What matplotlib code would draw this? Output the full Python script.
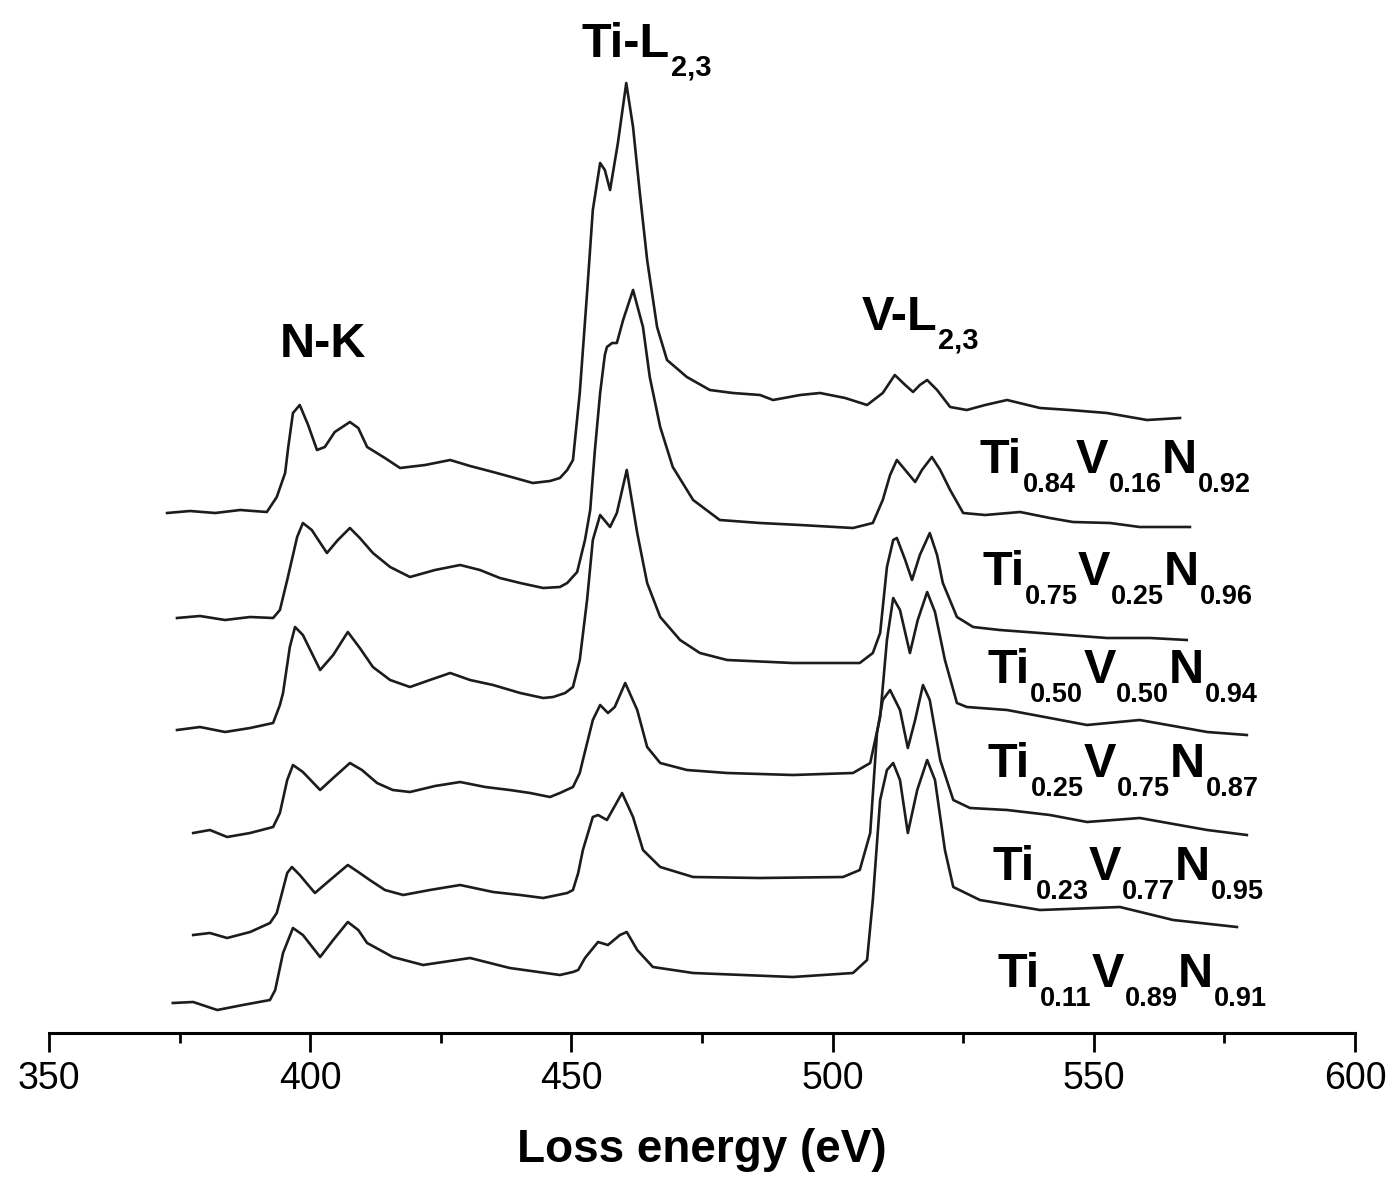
import matplotlib.pyplot as plt
from matplotlib.ticker import MultipleLocator

plt.rcParams['font.family'] = ['Liberation Sans', 'DejaVu Sans']

# EELS spectra, energy in eV, intensity in arb. units (stacked as in the figure)
e1 = [372.6, 377.0, 381.8, 386.6, 391.7, 393.6, 395.2, 395.8, 396.7, 398.0, 399.6, 401.3, 402.8, 404.7,
      407.6, 409.2, 410.9, 414.3, 417.2, 422.0, 426.8, 430.6, 435.0, 439.2, 442.6, 445.9, 447.8, 449.2,
      450.3, 451.6, 453.0, 454.1, 455.5, 456.4, 457.4, 458.9, 460.5, 461.8, 463.1, 464.5, 466.4, 468.3,
      472.1, 476.5, 480.9, 486.1, 488.6, 493.8, 497.6, 502.4, 506.6, 509.6, 511.9, 513.9, 515.4, 516.7,
      518.1, 520.0, 522.5, 525.7, 529.2, 533.4, 539.7, 545.4, 552.5, 560.2, 566.5]
i1 = [52.0, 52.2, 52.0, 52.3, 52.1, 53.6, 56.0, 58.6, 62.0, 62.8, 60.8, 58.3, 58.6, 60.1,
      61.1, 60.5, 58.6, 57.5, 56.5, 56.8, 57.3, 56.7, 56.1, 55.5, 55.0, 55.2, 55.5, 56.3,
      57.3, 64.0, 74.0, 82.3, 87.0, 86.3, 84.3, 89.0, 95.0, 90.6, 84.0, 77.3, 70.6, 67.3,
      65.6, 64.3, 64.0, 63.8, 63.3, 63.8, 64.0, 63.5, 62.8, 64.0, 65.8, 64.8, 64.1, 64.8,
      65.3, 64.3, 62.6, 62.3, 62.8, 63.3, 62.5, 62.3, 62.0, 61.3, 61.5]

e2 = [374.5, 378.9, 383.7, 388.5, 392.9, 394.2, 395.6, 397.5, 398.6, 400.3, 403.2, 405.3, 407.6, 409.5,
      412.0, 415.3, 419.1, 423.9, 428.7, 432.5, 436.3, 440.2, 444.6, 447.8, 449.2, 451.1, 452.6, 453.6,
      454.5, 455.5, 456.4, 456.8, 457.8, 458.7, 459.9, 461.8, 463.7, 465.0, 467.0, 469.4, 473.3, 478.4,
      486.1, 493.8, 503.9, 507.7, 509.6, 511.0, 512.3, 513.9, 515.8, 517.1, 519.0, 520.6, 522.5, 525.0,
      529.2, 535.9, 541.6, 546.0, 553.1, 558.8, 568.4]
i2 = [41.5, 41.7, 41.3, 41.6, 41.5, 42.3, 45.3, 49.6, 51.0, 50.3, 48.0, 49.3, 50.5, 49.5,
      48.0, 46.6, 45.6, 46.3, 46.8, 46.3, 45.5, 45.0, 44.5, 44.6, 45.0, 46.1, 49.3, 52.3,
      58.3, 64.0, 67.8, 68.6, 69.0, 69.0, 71.3, 74.3, 70.6, 65.6, 60.6, 56.6, 53.3, 51.3,
      51.0, 50.8, 50.5, 51.0, 53.3, 55.8, 57.3, 56.3, 55.1, 56.3, 57.6, 56.3, 54.3, 52.0,
      51.8, 52.1, 51.5, 51.1, 51.0, 50.6, 50.6]

e3 = [374.5, 378.9, 383.7, 388.5, 392.9, 394.2, 394.8, 396.1, 397.1, 398.6, 401.9, 404.4, 407.2, 409.5,
      412.0, 415.3, 419.1, 422.9, 426.8, 430.6, 435.0, 440.2, 444.6, 446.5, 448.8, 450.3, 451.6, 453.0,
      454.1, 455.5, 457.4, 458.7, 460.6, 462.6, 464.5, 467.0, 470.8, 474.6, 479.8, 492.4, 505.2, 507.7,
      509.1, 510.4, 511.6, 512.3, 513.9, 515.2, 516.7, 518.6, 520.0, 521.1, 523.8, 526.9, 532.0, 539.7,
      552.5, 560.8, 567.8]
i3 = [30.3, 30.6, 30.1, 30.5, 31.0, 32.8, 34.0, 38.6, 40.6, 39.8, 36.3, 37.8, 40.1, 38.5,
      36.6, 35.3, 34.6, 35.3, 36.0, 35.3, 34.8, 34.0, 33.5, 33.6, 34.0, 34.6, 37.3, 43.3,
      49.3, 51.8, 50.6, 52.0, 56.3, 50.0, 45.0, 41.6, 39.3, 38.0, 37.3, 37.0, 37.0, 38.0,
      40.0, 46.6, 49.3, 49.5, 47.3, 45.3, 47.8, 50.0, 47.8, 45.0, 41.6, 40.6, 40.3, 40.0,
      39.5, 39.5, 39.3]

e4 = [377.6, 380.8, 384.1, 388.5, 392.9, 394.2, 395.6, 396.7, 398.6, 401.9, 404.4, 407.6, 409.9, 412.8,
      415.8, 419.1, 423.9, 428.7, 433.5, 438.2, 442.1, 445.9, 447.8, 450.3, 451.6, 452.2, 454.1, 455.5,
      457.0, 458.3, 460.3, 462.6, 464.5, 467.0, 472.1, 479.8, 492.4, 503.9, 507.2, 509.1, 510.4, 511.6,
      512.9, 514.8, 516.3, 518.1, 519.6, 521.5, 523.8, 525.7, 533.4, 541.6, 548.7, 558.8, 571.7, 579.3]
i4 = [20.0, 20.3, 19.6, 20.0, 20.6, 22.0, 25.3, 26.8, 26.1, 24.3, 25.5, 27.0, 26.3, 25.0,
      24.3, 24.1, 24.7, 25.1, 24.6, 24.3, 24.0, 23.6, 24.0, 24.6, 26.0, 27.3, 31.3, 32.8,
      32.0, 32.6, 35.0, 32.3, 28.6, 27.0, 26.3, 26.0, 25.8, 26.0, 27.0, 31.6, 39.3, 43.5,
      42.3, 38.0, 41.3, 44.1, 42.1, 37.3, 33.0, 32.6, 32.3, 31.5, 30.8, 31.3, 30.1, 29.8]

e5 = [377.6, 380.8, 384.1, 388.5, 392.3, 393.6, 395.6, 396.5, 398.0, 400.9, 403.8, 407.2, 409.2, 411.4,
      414.3, 417.8, 422.9, 428.7, 435.0, 440.2, 444.6, 449.2, 450.3, 451.3, 452.2, 454.1, 455.1, 456.8,
      459.7, 461.8, 463.7, 467.0, 473.3, 486.1, 502.0, 505.2, 507.2, 508.5, 509.6, 511.0, 512.9, 514.4,
      515.8, 517.3, 518.6, 520.6, 523.1, 526.3, 533.4, 541.6, 548.7, 558.8, 571.7, 579.3]
i5 = [9.8, 10.0, 9.5, 10.1, 11.0, 12.0, 16.0, 16.6, 15.8, 14.0, 15.3, 16.8, 16.1, 15.3,
      14.3, 13.8, 14.3, 14.8, 14.1, 13.8, 13.5, 14.0, 14.3, 16.0, 18.3, 21.6, 21.8, 21.3,
      24.0, 21.6, 18.3, 16.6, 15.6, 15.5, 15.6, 16.3, 20.0, 30.0, 33.3, 34.3, 32.3, 28.5,
      31.3, 34.8, 33.3, 27.3, 23.3, 22.5, 22.3, 21.8, 21.1, 21.5, 20.3, 19.8]

e6 = [373.7, 377.6, 382.2, 387.1, 392.3, 393.3, 394.8, 396.7, 398.6, 401.9, 404.4, 407.2, 409.2, 410.9,
      415.8, 421.6, 430.6, 438.2, 447.8, 450.3, 451.3, 452.6, 455.1, 457.0, 459.3, 460.6, 462.6, 465.6,
      473.3, 492.4, 503.9, 506.6, 507.7, 509.1, 510.4, 511.6, 512.9, 514.4, 516.2, 518.1, 519.6, 521.5,
      523.1, 528.2, 539.7, 555.0, 565.2, 577.4]
i6 = [3.0, 3.1, 2.3, 2.8, 3.3, 4.3, 8.0, 10.5, 9.8, 7.6, 9.3, 11.1, 10.3, 9.0,
      7.6, 6.8, 7.5, 6.5, 5.8, 6.1, 6.3, 7.5, 9.1, 8.8, 9.8, 10.1, 8.3, 6.6,
      6.0, 5.6, 6.0, 7.3, 13.3, 23.3, 26.3, 27.0, 25.3, 20.0, 24.3, 27.3, 25.3, 18.3,
      14.6, 13.3, 12.3, 12.6, 11.3, 10.6]

energies = [e1, e2, e3, e4, e5, e6]
intens = [i1, i2, i3, i4, i5, i6]

# sample labels: (element, subscript) parts, label anchor (eV, intensity)
samples = [
    [('Ti', '0.84'), ('V', '0.16'), ('N', '0.92')],
    [('Ti', '0.75'), ('V', '0.25'), ('N', '0.96')],
    [('Ti', '0.50'), ('V', '0.50'), ('N', '0.94')],
    [('Ti', '0.25'), ('V', '0.75'), ('N', '0.87')],
    [('Ti', '0.23'), ('V', '0.77'), ('N', '0.95')],
    [('Ti', '0.11'), ('V', '0.89'), ('N', '0.91')],
]
label_x = [528.2, 528.6, 529.6, 529.7, 530.7, 531.5]
label_y = [56.0, 44.8, 35.0, 25.6, 15.3, 4.6]

BIG = 35
SUB = 19.5


def sub_text(ax, x, y, parts, sub_size=SUB, dy=10.5):
    # chain text pieces: big element symbol followed by a lowered small subscript
    base = ax.text(x, y, parts[0][0], fontsize=BIG, fontweight='bold', va='baseline', ha='left')
    main = base
    for i, (el, sub) in enumerate(parts):
        if i > 0:
            main = ax.annotate(el, xy=(1, 0), xycoords=(prev, base), fontsize=BIG,
                               fontweight='bold', va='bottom', ha='left')
        prev = ax.annotate(sub, xy=(1, 0), xycoords=main, xytext=(0.5, -dy),
                           textcoords='offset points', fontsize=sub_size,
                           fontweight='bold', va='bottom', ha='left')


fig = plt.figure(figsize=(13.95, 11.95), dpi=100)
ax = fig.add_axes([49 / 1395, 162 / 1195, 1306 / 1395, 1033 / 1195])

for e, y in zip(energies, intens):
    ax.plot(e, y, color='#1c1c1c', lw=1.9, solid_joinstyle='round')

for parts, x, y in zip(samples, label_x, label_y):
    sub_text(ax, x, y, parts)

ax.text(402.5, 67.6, 'N-K', fontsize=BIG, fontweight='bold', ha='center', va='baseline')
sub_text(ax, 452.0, 97.6, [('Ti-L', '2,3')], sub_size=21)
sub_text(ax, 505.6, 70.3, [('V-L', '2,3')], sub_size=21)

ax.set_xlim(350, 600)
ax.set_ylim(0, 103.3)
for s in ['left', 'right', 'top']:
    ax.spines[s].set_visible(False)
ax.spines['bottom'].set_linewidth(2.2)
ax.set_yticks([])
ax.xaxis.set_major_locator(MultipleLocator(50))
ax.xaxis.set_minor_locator(MultipleLocator(25))
ax.tick_params(axis='x', which='major', direction='out', length=14, width=2, labelsize=27, pad=6)
ax.tick_params(axis='x', which='minor', direction='out', length=7, width=2)

ax.set_xlabel('Loss energy (eV)', fontsize=33, fontweight='bold')
ax.xaxis.label.set_va('baseline')
ax.xaxis.set_label_coords(0.5, -(1162 - 1033) / 1033)

fig.savefig('out.png', dpi=100)
